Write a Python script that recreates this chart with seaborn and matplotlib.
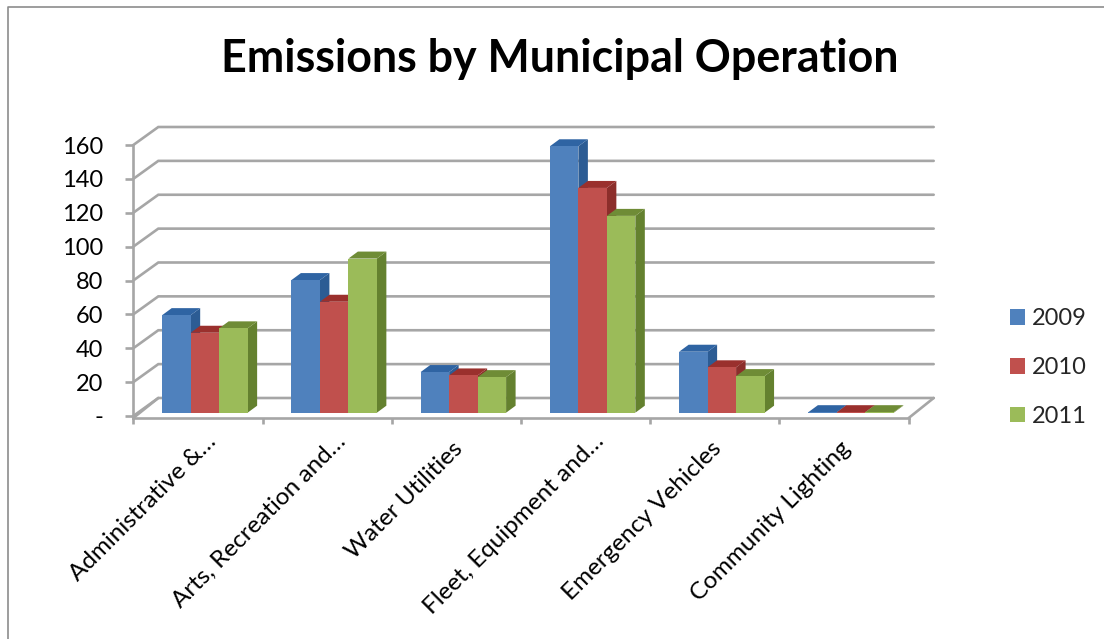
import matplotlib
matplotlib.use("Agg")
import matplotlib.pyplot as plt
import pandas as pd
import seaborn as sns
from matplotlib.lines import Line2D
from matplotlib.patches import Patch, Polygon
from matplotlib.ticker import FixedLocator
from matplotlib.transforms import ScaledTranslation

categories = ["Administrative &…", "Arts, Recreation and…", "Water Utilities",
              "Fleet, Equipment and…", "Emergency Vehicles", "Community Lighting"]
years = ["2009", "2010", "2011"]
v2009 = [57.6, 78.3, 24, 157.3, 36, 0.3]
v2010 = [47.2, 65.5, 22, 132.7, 26.8, 0.3]
v2011 = [49.8, 91, 21, 116.2, 21.6, 0.3]
y_ticks = [0, 20, 40, 60, 80, 100, 120, 140, 160]
y_labels = ["-", "20", "40", "60", "80", "100", "120", "140", "160"]
title = "Emissions by Municipal Operation"

front = ["#4F81BD", "#C0504D", "#9BBB59"]
side = ["#2C5C94", "#8C2E2B", "#64812F"]
top = ["#2F64A3", "#9A302D", "#6F8C36"]
grid = "#A6A6A6"

W, H = 1104, 639
sns.set_theme(style="white")
plt.rcParams["font.family"] = ["Lato", "DejaVu Sans"]

df = pd.DataFrame({"category": categories, "2009": v2009, "2010": v2010, "2011": v2011})
long = df.melt(id_vars="category", var_name="year", value_name="value")

fig = plt.figure(figsize=(W / 100, H / 100), dpi=100, facecolor="white")
x0, x1, y0, y1 = 133.3, 908.7, 416, 145
ax = fig.add_axes([x0 / W, 1 - y0 / H, (x1 - x0) / W, (y0 - y1) / H])

sns.barplot(data=long, x="category", y="value", hue="year", hue_order=years,
            palette=front, saturation=1, width=0.661, gap=0, dodge=True,
            errorbar=None, legend=False, ax=ax, linewidth=0, zorder=3)

px_x = len(categories) / (x1 - x0)
px_y = 160 / (y0 - y1)
wall_dx, wall_dy = 25 * px_x, 18 * px_y
depth_dx, depth_dy = 9.5 * px_x, 7 * px_y
shift_x, lift = 7 * px_x, 3.3 * px_y
xl, xr = -0.5, len(categories) - 0.5
lw = 1.9

for v in y_ticks:
    ax.plot([xl, xl + wall_dx, xr + wall_dx], [v, v + wall_dy, v + wall_dy],
            color=grid, lw=lw, clip_on=False, zorder=1, solid_joinstyle="miter")
floor = -2 * px_y
ax.plot([xl, xl + wall_dx], [floor, wall_dy], color=grid, lw=lw, clip_on=False, zorder=1)
ax.plot([xr, xr + wall_dx], [floor, wall_dy], color=grid, lw=lw, clip_on=False, zorder=1)

for i, container in enumerate(ax.containers):
    for p in container.patches:
        p.set_x(p.get_x() + shift_x)
        p.set_y(lift)
        p.set_zorder(3 + i + 0.5)
        p.set_clip_on(False)
        a, b = p.get_x(), p.get_x() + p.get_width()
        lo, hi = lift, lift + p.get_height()
        ax.add_patch(Polygon([(b, lo), (b + depth_dx, lo + depth_dy),
                              (b + depth_dx, hi + depth_dy), (b, hi)],
                             fc=side[i], ec="none", clip_on=False, zorder=3 + i))
        ax.add_patch(Polygon([(a, hi), (a + depth_dx, hi + depth_dy),
                              (b + depth_dx, hi + depth_dy), (b, hi)],
                             fc=top[i], ec="none", clip_on=False, zorder=3 + i))

ax.set_xlim(xl, xr)
ax.set_ylim(0, 160)
ax.set_xlabel("")
ax.set_ylabel("")
ax.set_facecolor("none")
for s in ["top", "right"]:
    ax.spines[s].set_visible(False)
for s in ["left", "bottom"]:
    ax.spines[s].set_color(grid)
    ax.spines[s].set_linewidth(lw)
ax.spines["bottom"].set_position(("outward", 1.5))
ax.spines["left"].set_bounds(floor, 160)

ax.set_yticks(y_ticks, y_labels)
ax.tick_params(axis="y", length=5.8, width=lw, color=grid, pad=16, labelsize=17,
               labelcolor="black", left=True)
ax.set_xticks(range(len(categories)))
ax.set_xticklabels(categories, rotation=45, ha="right", rotation_mode="anchor",
                   fontsize=17.5, color="black")
ax.tick_params(axis="x", which="major", length=0, pad=14)
ax.xaxis.set_minor_locator(FixedLocator([i - 0.5 for i in range(len(categories) + 1)]))
ax.tick_params(axis="x", which="minor", bottom=True, length=4.3, width=lw, color=grid)
for lab in ax.get_xticklabels():
    cut = lab.get_text().endswith("…")
    nudge_x, nudge_y = (7.5, 7) if cut else (-4, 0)
    lab.set_transform(lab.get_transform()
                      + ScaledTranslation(nudge_x / 100, nudge_y / 100, fig.dpi_scale_trans))

fig.text(559.5 / W, 1 - 59 / H, title, ha="center", va="center",
         fontsize=32.2, fontweight="bold", color="black")

handles = [Patch(fc=c, ec="none", label=y) for c, y in zip(front, years)]
ax.legend(handles=handles, loc="center left", bbox_to_anchor=(1010 / W, 1 - 367.5 / H),
          bbox_transform=fig.transFigure, frameon=False, fontsize=17,
          handlelength=0.64, handleheight=0.64, handletextpad=0.3, labelspacing=1.17,
          borderpad=0, borderaxespad=0)

fig.add_artist(Line2D([8 / W, 8 / W, 1], [0, 1 - 7 / H, 1 - 7 / H],
                      transform=fig.transFigure, color="#8C8C8C", lw=1.2))

fig.savefig("out.png", dpi=100, facecolor="white")
